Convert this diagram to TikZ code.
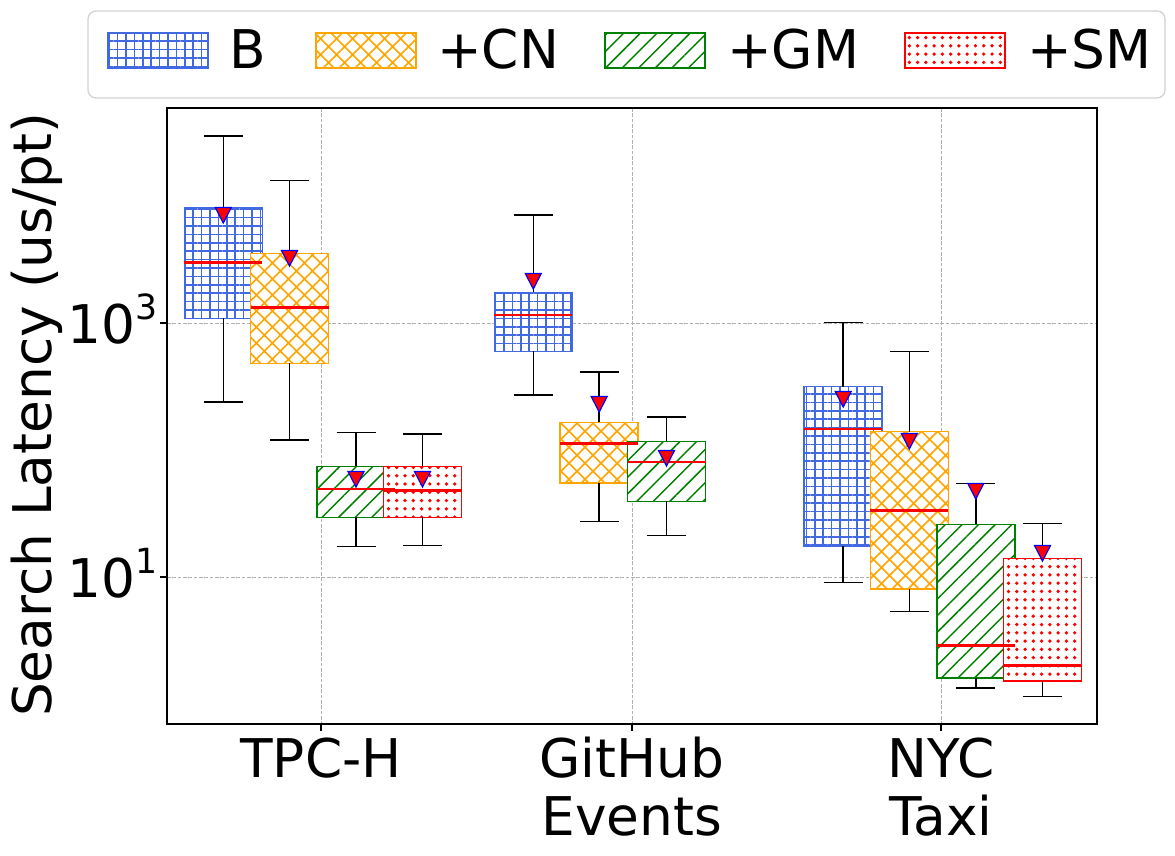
\documentclass[tikz,border=0pt]{standalone}
\usepackage{fontspec}
\setmainfont{DejaVu Sans}
\usetikzlibrary{patterns.meta}
\definecolor{royal}{HTML}{4169E1}
\definecolor{orng}{HTML}{FFA500}
\definecolor{grn}{HTML}{008000}
\definecolor{gridgray}{HTML}{B0B0B0}

% x / upper cap / q3 / median / q1 / lower cap / mean / hatch
\def\boxdata{223.3/136/207.3/262.3/318.3/402/215/hatchB,
  289.5/180.3/253.3/307.3/363.3/440/258/hatchCN,
  356/432.3/466.3/489/517.3/546.3/479/hatchGM,
  422.5/434/466.3/490.3/517.3/545.3/479/hatchSM,
  533.3/215/292.3/315/351.3/395/281/hatchB,
  599.2/372/422.3/443.3/483/521.7/404/hatchCN,
  666.5/417/441.3/462/501.3/535.3/458/hatchGM,
  843.2/322.3/386.7/429/546/582.3/399/hatchB,
  909.3/351.3/431.7/510.3/589/611.3/441/hatchCN,
  975.8/483.3/524.3/645.3/678/688/491/hatchGM,
  1042.5/523.3/558.3/665.3/681/696.3/553/hatchSM}

\begin{document}
\begin{tikzpicture}[x=0.75pt, y=-0.75pt,
    every node/.style={inner sep=0pt, font=\fontsize{40}{43.5}\selectfont},
    hatchB/.style={draw=royal, pattern={Hatch[angle=0, distance=6.3pt, line width=1.2pt]}, pattern color=royal},
    hatchCN/.style={draw=orng, pattern={Hatch[angle=45, distance=8.5pt, line width=1.2pt]}, pattern color=orng},
    hatchGM/.style={draw=grn, pattern={Lines[angle=45, distance=8.8pt, line width=1.1pt]}, pattern color=grn},
    hatchSM/.style={draw=red, pattern={Dots[distance=6.2pt, radius=1.4pt]}, pattern color=red},
    boxline/.style={line width=1.1pt},
    whisk/.style={black, line width=1.1pt},
    med/.style={red, line width=2.2pt},
    meanmark/.style={fill=red, draw=blue, line width=0.9pt},
    gridline/.style={gridgray, line width=0.75pt, dash pattern=on 2.8pt off 1.2pt}]
  \useasboundingbox (0,0) rectangle (1175,856);

  % grid
  \foreach \gx in {321,632,941}
    \draw[gridline] (\gx,108) -- (\gx,724);
  \foreach \gy in {323,577}
    \draw[gridline] (167,\gy) -- (1097,\gy);

  % boxes
  \foreach \bx/\bhi/\bqt/\bmd/\bqb/\blo/\bmn/\bsty in \boxdata {
    \fill[white] (\bx-39,\bqt) rectangle (\bx+39,\bqb);
    \path[\bsty, boxline] (\bx-39,\bqt) rectangle (\bx+39,\bqb);
  }
  % whiskers, caps, medians
  \foreach \bx/\bhi/\bqt/\bmd/\bqb/\blo/\bmn/\bsty in \boxdata {
    \draw[whisk] (\bx,\bqt) -- (\bx,\bhi);
    \draw[whisk] (\bx,\bqb) -- (\bx,\blo);
    \draw[whisk] (\bx-19.5,\bhi) -- (\bx+19.5,\bhi);
    \draw[whisk] (\bx-19.5,\blo) -- (\bx+19.5,\blo);
    \draw[med] (\bx-39,\bmd) -- (\bx+39,\bmd);
  }
  % means
  \foreach \bx/\bhi/\bqt/\bmd/\bqb/\blo/\bmn/\bsty in \boxdata
    \draw[meanmark] (\bx-8,\bmn-7.5) -- (\bx+8,\bmn-7.5) -- (\bx,\bmn+8) -- cycle;

  % axes
  \draw[line width=1.1pt] (167,108) rectangle (1097,724);
  \foreach \gy in {323,577}
    \draw[line width=1.1pt] (160,\gy) -- (167,\gy);
  \foreach \gx in {321,632,941}
    \draw[line width=1.1pt] (\gx,724) -- (\gx,731);

  \node[anchor=base east] (ytick3) at (158,343) {10\raisebox{18pt}{\fontsize{26}{26}\selectfont 3}};
  \node[anchor=base east] (ytick1) at (158,597) {10\raisebox{18pt}{\fontsize{26}{26}\selectfont 1}};
  \node[rotate=90, anchor=base] (ylabel) at (51,415) {Search Latency (us/pt)};

  \node[anchor=north, align=center] (xtpch) at (321,736.4) {\strut TPC-H};
  \node[anchor=north, align=center] (xgithub) at (632,736.4) {\strut GitHub\\Events};
  \node[anchor=north, align=center] (xnyc) at (941,736.4) {\strut NYC\\Taxi};

  % legend
  \draw[gray!35, line width=1pt, rounded corners=6pt, fill=white] (88,11) rectangle (1165,98);
  \foreach \lx/\bsty in {108/hatchB, 316/hatchCN, 605/hatchGM, 905/hatchSM}
    \path[\bsty, boxline] (\lx,33) rectangle (\lx+100,68);
  \node[anchor=base west] (legB) at (229,68.5) {B};
  \node[anchor=base west] (legCN) at (437,68.5) {+CN};
  \node[anchor=base west] (legGM) at (727,68.5) {+GM};
  \node[anchor=base west] (legSM) at (1027,68.5) {+SM};
\end{tikzpicture}
\end{document}
